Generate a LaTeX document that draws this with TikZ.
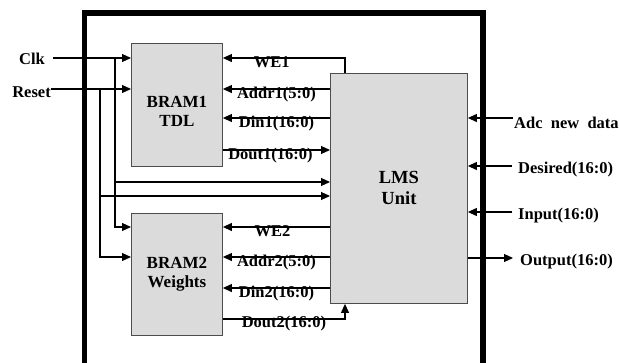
\documentclass[tikz,border=0pt]{standalone}
\usepackage{fontspec}
\setmainfont{Liberation Serif}
\usetikzlibrary{positioning, arrows.meta}

\begin{document}
\begin{tikzpicture}[
  x=1pt, y=-1pt,
  font=\bfseries\fontsize{16.5}{19}\selectfont,
  node distance=46pt,
  mem/.style={draw=black!70, fill=black!14, line width=0.9pt,
    minimum width=91pt, minimum height=123pt, align=center,
    inner sep=0pt, font=\bfseries\fontsize{17}{19}\selectfont},
  lms/.style={draw=black!70, fill=black!14, line width=0.9pt,
    minimum width=137pt, minimum height=230pt, align=center,
    inner sep=0pt, font=\bfseries\fontsize{18.5}{21}\selectfont},
  frame/.style={line width=5.5pt, line join=miter},
  sig/.style={-{Triangle[length=9pt, width=8pt]}, line width=1.1pt},
  wire/.style={line width=1.1pt},
  tag/.style={anchor=base, yshift=-9pt, inner sep=0pt},
  pin/.style={inner sep=0pt},
]
  \useasboundingbox (0,0) rectangle (619,362);

  % chip outline (open at the bottom)
  \draw[frame] (84.7,372) |- (483,12.8) -- (483,372);

  \node[mem, anchor=north west] (bram1) at (131,43) {\\[6pt]BRAM1\\TDL};
  \node[mem, below=of bram1, minimum height=122pt] (bram2) {BRAM2\\Weights};
  \node[lms, anchor=north west] (lms) at (330,73) {LMS\\Unit};

  % external pins
  \coordinate (clkin) at (53,58);
  \coordinate (rstin) at (51,89);
  \coordinate (clkbr) at (115,58);
  \coordinate (rstbr) at (100,89);
  \node[pin, anchor=base east] (lclk) at (45,64) {Clk};
  \node[pin, anchor=base east] (lrst) at (51,97) {Reset};

  \coordinate (adcin) at (513,118);
  \coordinate (desin) at (512,166);
  \coordinate (inpin) at (512,212);
  \coordinate (outp) at (513,258);
  \node[pin, anchor=base west] (ladc) at (514,128) {Adc\ \ new\ \ data};
  \node[pin, anchor=base west] (ldes) at (518,173) {Desired(16:0)};
  \node[pin, anchor=base west] (linp) at (518,219) {Input(16:0)};
  \node[pin, anchor=base west] (lout) at (520,265) {Output(16:0)};

  \draw[sig] (clkin) -- (clkin -| bram1.west);
  \draw[sig] (rstin) -- (rstin -| bram1.west);
  \draw[sig] (clkbr) |- (lms.west |- 0,182);
  \draw[sig] (rstbr) |- (lms.west |- 0,196);
  \draw[sig] (clkbr) |- (bram2.west |- 0,227);
  \draw[sig] (rstbr) |- (bram2.west |- 0,257);

  \foreach \p in {adcin, desin, inpin}
    \draw[sig] (\p) -- (\p -| lms.east);
  \draw[sig] (lms.east |- outp) -- (outp);

  % memory ports
  \draw[sig] (lms.north -| 345,0) |- (bram1.east |- 0,58)
    node[tag, pos=0.8] (twe1) {WE1};
  \draw[sig] (lms.west |- 0,227) -- (bram2.east |- 0,227)
    node[tag, pos=0.5, xshift=-4pt] (twe2) {WE2};

  \foreach \y/\t/\b [count=\i] in {89/{Addr1(5:0)}/bram1, 118/{Din1(16:0)}/bram1,
                                   257/{Addr2(5:0)}/bram2, 288/{Din2(16:0)}/bram2}
    \draw[sig] (lms.west |- 0,\y) -- (\b.east |- 0,\y)
      node[tag, midway] (tin\i) {\t};

  \draw[sig] (bram1.east |- 0,150) -- (lms.west |- 0,150)
    node[tag, midway, xshift=-6pt] (tdo1) {Dout1(16:0)};
  \draw[sig] (bram2.east |- 0,319) -| (lms.south -| 345,0)
    node[tag, pos=0.25, yshift=1pt] (tdo2) {Dout2(16:0)};
\end{tikzpicture}
\end{document}
